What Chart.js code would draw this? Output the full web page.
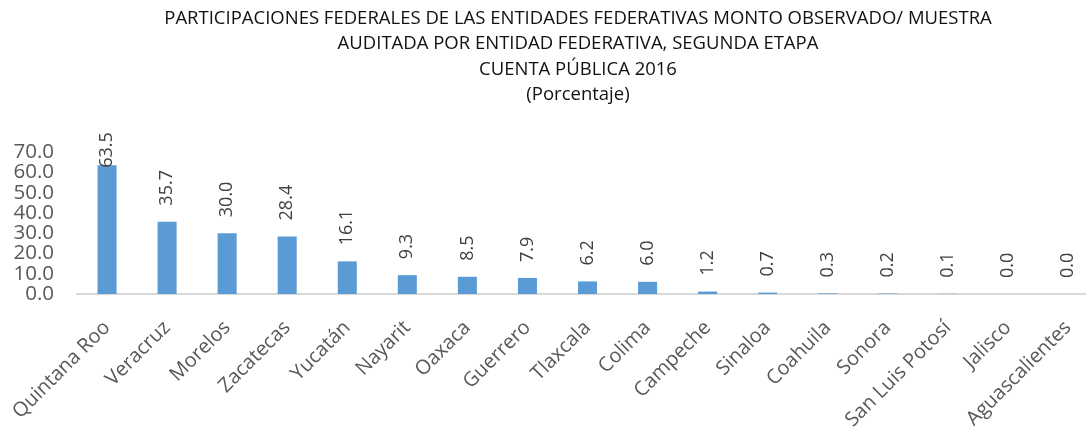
<!DOCTYPE html>
<html>
<head>
<meta charset="utf-8">
<script src="https://cdn.jsdelivr.net/npm/chart.js@4.4.1/dist/chart.umd.min.js"></script>
<style>
  html, body { margin: 0; padding: 0; background: #fff; overflow: hidden; }
  #wrap { position: relative; width: 1100px; height: 431px; }
</style>
</head>
<body>
<div id="wrap"><canvas id="c" width="1100" height="431"></canvas></div>
<script>
const titleLines = [
  'PARTICIPACIONES FEDERALES DE LAS ENTIDADES FEDERATIVAS MONTO OBSERVADO/ MUESTRA',
  'AUDITADA POR ENTIDAD FEDERATIVA, SEGUNDA ETAPA',
  'CUENTA PÚBLICA 2016',
  '(Porcentaje)'
];
const categories = ['Quintana Roo','Veracruz','Morelos','Zacatecas','Yucatán','Nayarit','Oaxaca','Guerrero','Tlaxcala','Colima','Campeche','Sinaloa','Coahuila','Sonora','San Luis Potosí','Jalisco','Aguascalientes'];
const values = [63.5, 35.7, 30.0, 28.4, 16.1, 9.3, 8.5, 7.9, 6.2, 6.0, 1.2, 0.7, 0.3, 0.2, 0.1, 0.0, 0.0];
const yTicks = [0, 10, 20, 30, 40, 50, 60, 70];

const FONT = "'Open Sans', sans-serif";

const valueLabels = {
  id: 'valueLabels',
  afterDatasetsDraw(chart) {
    const ctx = chart.ctx;
    const meta = chart.getDatasetMeta(0);
    const topLimit = chart.chartArea.top - 20;
    ctx.save();
    ctx.font = '18px ' + FONT;
    ctx.fillStyle = '#404040';
    ctx.textAlign = 'left';
    ctx.textBaseline = 'middle';
    meta.data.forEach((bar, i) => {
      const txt = values[i].toFixed(1);
      const w = ctx.measureText(txt).width;
      let yStart = bar.y - 16;
      if (yStart - w < topLimit) yStart = topLimit + w;
      ctx.save();
      ctx.translate(bar.x, yStart);
      ctx.rotate(-Math.PI / 2);
      ctx.fillText(txt, 0, 0);
      ctx.restore();
    });
    ctx.restore();
  }
};

// center the title block like the original (slightly right of canvas centre)
const titleShift = {
  id: 'titleShift',
  afterLayout(chart) {
    const tb = chart.titleBlock;
    if (tb) { tb.left = 58; tb.width = tb.right - tb.left; }
  }
};

new Chart(document.getElementById('c'), {
  type: 'bar',
  data: {
    labels: categories,
    datasets: [{
      data: values,
      backgroundColor: '#5b9bd5',
      borderWidth: 0,
      categoryPercentage: 1,
      barPercentage: 0.317
    }]
  },
  options: {
    responsive: false,
    animation: false,
    events: [],
    layout: { padding: { left: 0, right: 2, top: 0, bottom: 0 } },
    plugins: {
      legend: { display: false },
      tooltip: { enabled: false },
      title: {
        display: true,
        text: titleLines,
        color: '#111',
        font: { family: FONT, size: 18.5, weight: 'normal', lineHeight: 1.38 },
        padding: { top: 5.5, bottom: 44.5 }
      }
    },
    scales: {
      x: {
        grid: { display: false, drawTicks: false },
        border: { display: true, color: '#d9d9d9', width: 2 },
        ticks: {
          color: '#595959',
          font: { family: FONT, size: 20 },
          minRotation: 45,
          maxRotation: 45,
          autoSkip: false,
          padding: 22
        },
        afterFit(scale) {
          scale.height = 137;
          scale.paddingLeft = 0;
          scale.paddingRight = 0;
        }
      },
      y: {
        min: 0,
        max: 70,
        grid: { display: false, drawTicks: false },
        border: { display: false },
        afterBuildTicks(scale) { scale.ticks = yTicks.map(v => ({ value: v })); },
        ticks: {
          color: '#595959',
          font: { family: FONT, size: 20.5 },
          autoSkip: false,
          padding: 23,
          callback: v => Number(v).toFixed(1)
        },
        afterFit(scale) { scale.width = 77; }
      }
    }
  },
  plugins: [valueLabels, titleShift]
});
</script>
</body>
</html>
